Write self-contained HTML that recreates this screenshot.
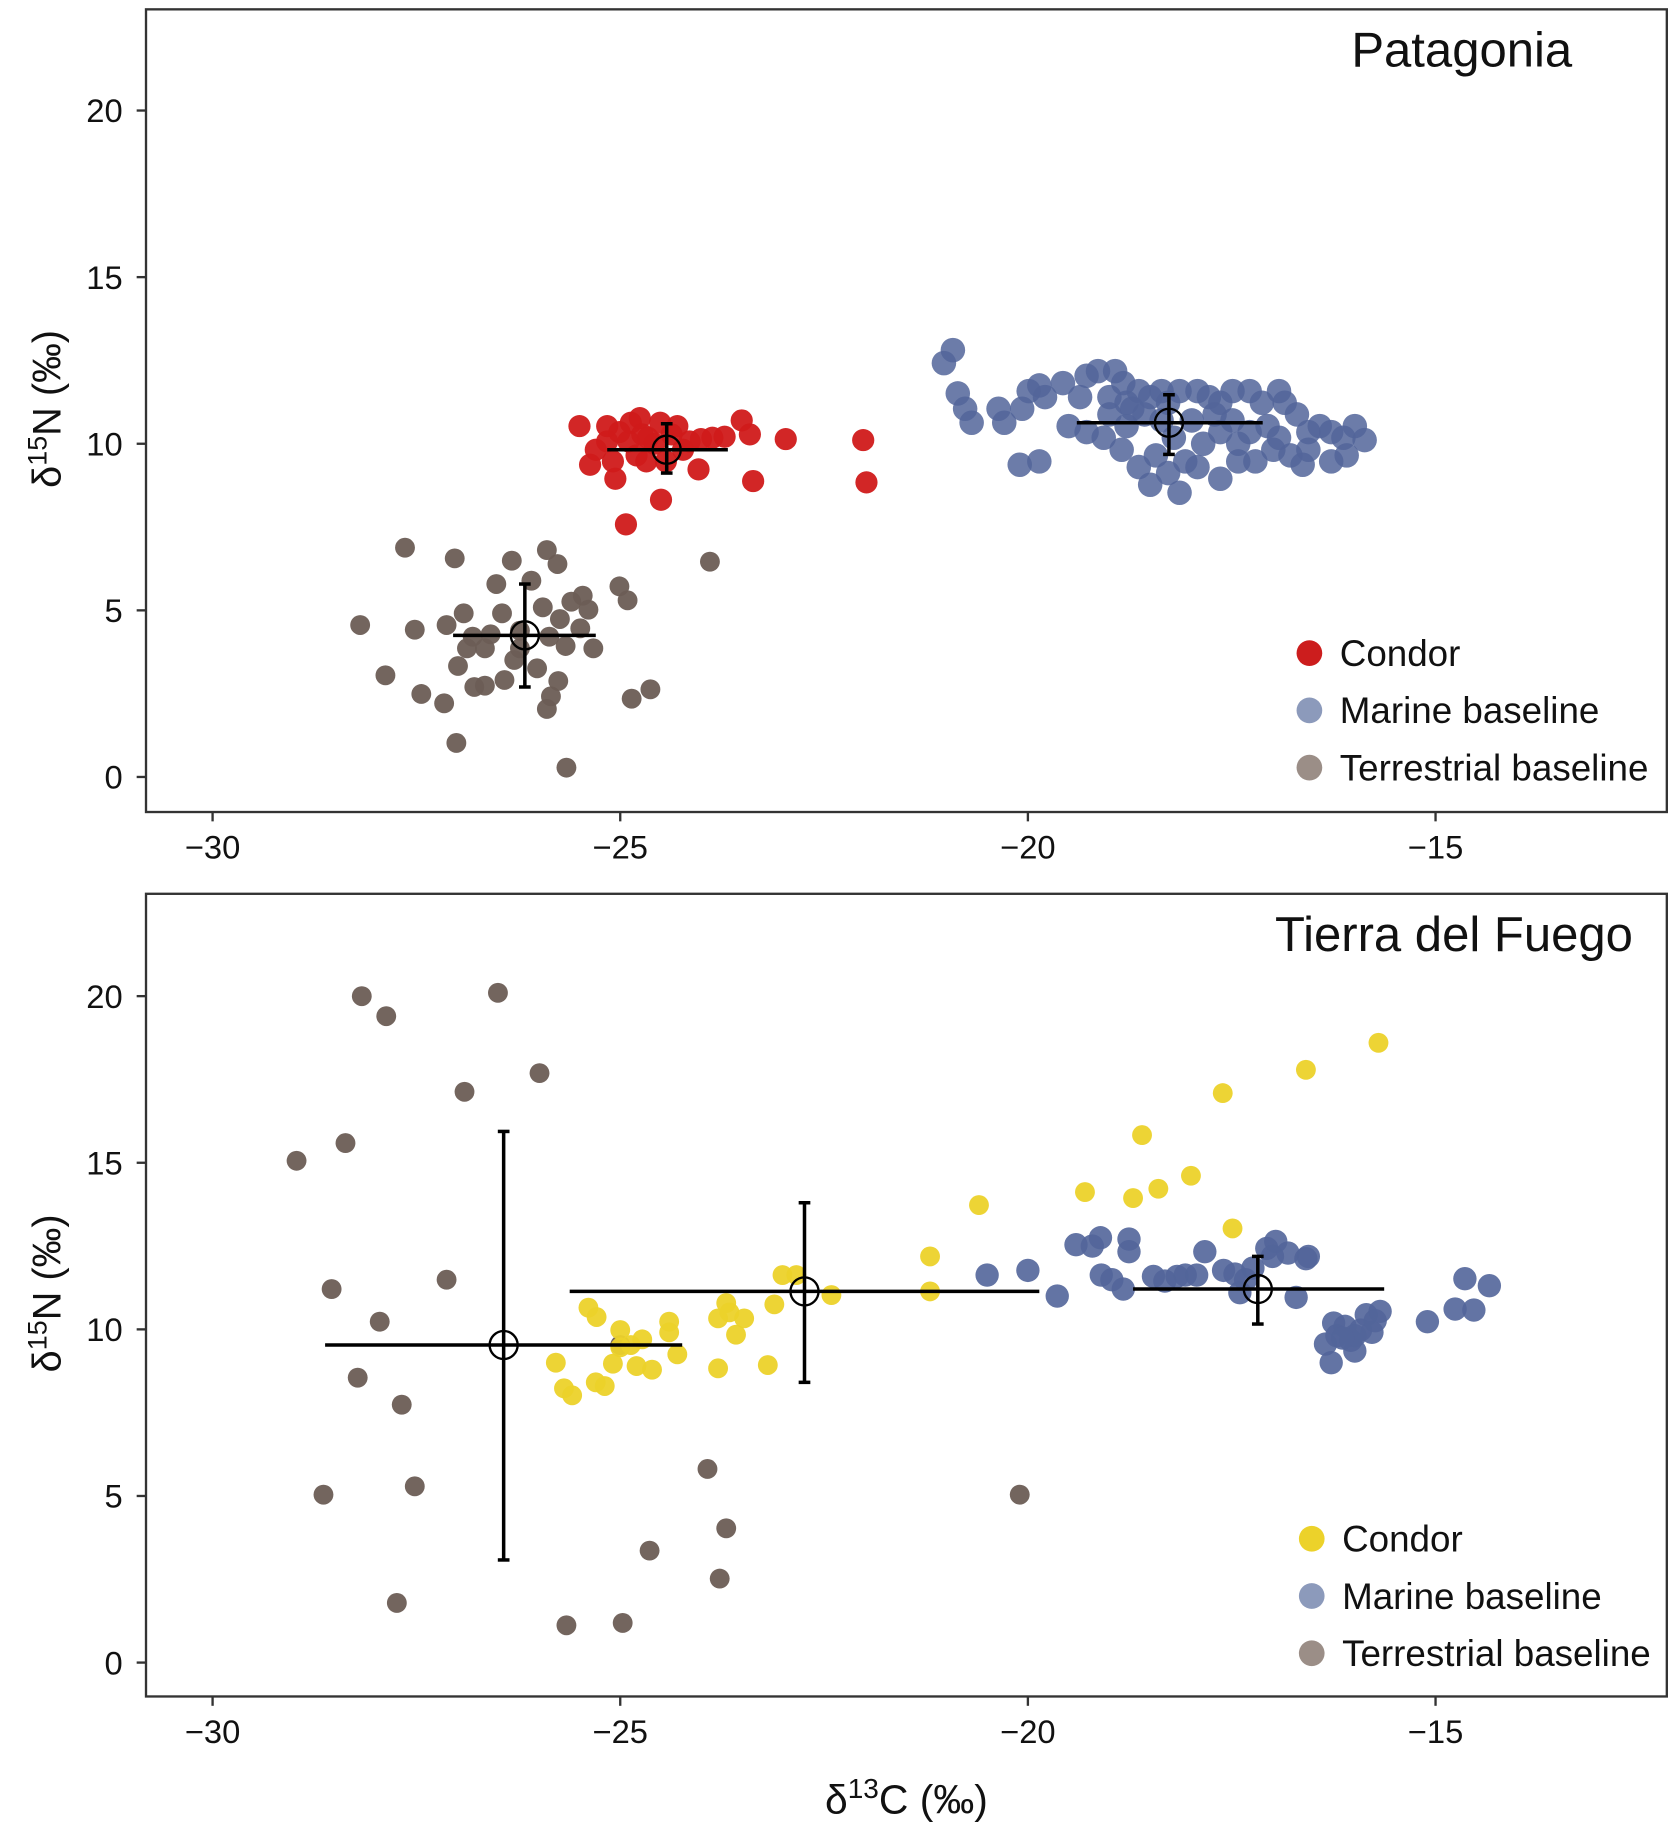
<!DOCTYPE html>
<html><head><meta charset="utf-8"><style>
html,body{margin:0;padding:0;background:#fff}
svg{display:block}
text{font-family:"Liberation Sans",Arial,sans-serif;fill:#111}
</style></head><body>
<svg id="chart" width="1675" height="1832" viewBox="0 0 1434 1568" preserveAspectRatio="none" xmlns="http://www.w3.org/2000/svg"></svg>
<script>
const xTicks=[-30,-25,-20,-15];
const yTicks=[0,5,10,15,20];
const patCondorX=[-25.50,-25.30,-25.16,-25.01,-24.87,-24.76,-25.09,-25.37,-25.06,-24.80,-24.58,-24.37,-24.23,-24.04,-23.87,-23.72,-23.51,-23.41,-22.97,-23.37,-24.50,-24.93,-22.02,-21.98,-24.66,-24.15,-24.01,-24.73,-24.90,-24.51,-24.44,-24.30,-25.16,-24.68];
const patCondorY=[10.53,9.82,10.07,10.35,10.63,10.77,9.47,9.37,8.95,9.65,10.00,10.28,9.82,9.23,10.18,10.21,10.70,10.28,10.14,8.88,8.32,7.58,10.11,8.84,10.18,10.07,10.14,10.28,10.07,10.63,9.47,10.53,10.53,9.47];
const patMarineX=[-21.03,-20.92,-20.86,-20.77,-20.69,-20.36,-20.29,-20.07,-19.99,-19.86,-19.79,-19.57,-19.36,-19.28,-19.14,-18.93,-18.83,-19.00,-18.79,-18.64,-18.50,-18.36,-18.14,-17.92,-17.78,-17.64,-17.49,-17.28,-17.13,-16.92,-16.85,-16.70,-16.56,-16.42,-16.28,-16.13,-15.99,-15.87,-16.09,-16.63,-16.78,-16.99,-17.21,-17.42,-17.64,-17.85,-18.07,-18.28,-18.50,-18.14,-17.64,-18.64,-18.85,-19.07,-19.28,-19.50,-19.86,-20.10,-19.00,-18.79,-18.57,-18.36,-18.21,-17.99,-17.71,-17.49,-17.28,-17.06,-18.43,-17.92,-17.42,-18.72,-18.28,-16.92,-16.56,-16.28];
const patMarineY=[12.42,12.81,11.51,11.05,10.63,11.05,10.63,11.05,11.58,11.75,11.40,11.82,11.40,12.04,12.18,12.18,11.82,11.40,11.23,11.58,11.40,11.58,11.58,11.58,11.40,11.23,11.58,11.58,11.23,11.58,11.23,10.88,10.35,10.53,10.35,10.18,10.53,10.11,9.65,9.37,9.65,9.82,9.47,10.00,10.35,10.00,9.47,9.12,8.77,8.53,8.95,9.30,9.82,10.18,10.35,10.53,9.47,9.37,10.88,10.53,10.88,10.70,10.18,10.70,10.88,10.70,10.35,10.53,9.65,9.30,9.47,11.05,11.23,10.18,9.82,9.47];
const patTerrX=[-27.64,-27.03,-26.33,-25.90,-25.77,-23.90,-28.19,-27.52,-27.13,-26.92,-26.81,-26.52,-26.09,-25.95,-25.74,-25.60,-25.46,-25.39,-25.49,-25.33,-25.67,-25.87,-25.01,-24.91,-27.88,-27.44,-27.16,-26.99,-26.79,-26.66,-26.42,-26.30,-26.02,-25.85,-25.76,-25.90,-27.01,-25.66,-24.86,-24.63,-26.59,-26.23,-26.45,-26.66,-26.23,-26.88];
const patTerrY=[6.88,6.56,6.49,6.81,6.39,6.46,4.56,4.42,4.56,4.91,4.21,5.79,5.89,5.09,4.74,5.26,5.44,5.02,4.46,3.86,3.93,4.21,5.72,5.30,3.05,2.49,2.21,3.33,2.70,2.74,2.91,3.51,3.26,2.42,2.88,2.04,1.02,0.28,2.35,2.63,4.28,4.39,4.91,3.86,3.86,3.86];
const tdfTerrX=[-28.97,-28.37,-28.17,-27.87,-26.50,-25.99,-26.91,-28.54,-27.95,-28.22,-27.68,-27.13,-28.64,-27.52,-27.74,-25.66,-24.97,-24.64,-23.93,-23.70,-23.78,-20.10,-25.00];
const tdfTerrY=[15.06,15.59,20.0,19.40,20.10,17.69,17.13,11.21,10.23,8.55,7.74,11.49,5.04,5.29,1.79,1.12,1.19,3.36,5.81,4.03,2.52,5.04,9.53];
const tdfCondorX=[-25.79,-25.69,-25.59,-25.39,-25.29,-25.00,-25.00,-24.87,-24.73,-25.30,-25.19,-25.09,-24.80,-24.61,-24.40,-24.40,-24.30,-23.80,-23.70,-23.66,-23.58,-23.48,-23.80,-23.19,-23.11,-23.01,-22.84,-22.41,-21.20,-21.20,-20.60,-19.30,-18.71,-18.60,-18.40,-18.00,-17.61,-17.49,-16.59,-15.70];
const tdfCondorY=[9.00,8.23,8.02,10.65,10.37,9.98,9.46,9.53,9.70,8.41,8.30,8.97,8.90,8.79,10.23,9.91,9.25,10.33,10.79,10.51,9.84,10.33,8.83,8.93,10.75,11.63,11.63,11.03,12.19,11.14,13.73,14.12,13.94,15.83,14.22,14.61,17.09,13.03,17.79,18.60];
const tdfMarineX=[-20.50,-20.00,-19.64,-19.41,-19.21,-19.11,-19.10,-18.97,-18.83,-18.76,-18.76,-18.46,-18.32,-18.17,-18.07,-17.93,-17.83,-17.60,-17.46,-17.40,-17.33,-17.24,-17.07,-16.96,-17.00,-16.81,-16.71,-16.59,-16.56,-16.35,-16.28,-16.25,-16.21,-16.11,-16.04,-15.99,-15.92,-15.85,-15.78,-15.74,-15.68,-15.10,-14.76,-14.64,-14.53,-14.34,-15.99,-16.14];
const tdfMarineY=[11.63,11.77,11.00,12.54,12.50,12.75,11.63,11.49,11.21,12.71,12.33,11.59,11.45,11.59,11.63,11.63,12.33,11.77,11.66,11.10,11.49,11.84,12.43,12.64,12.19,12.29,10.96,12.12,12.19,9.56,9.00,10.19,9.81,10.09,9.67,9.35,9.98,10.44,9.91,10.26,10.54,10.23,10.61,11.52,10.58,11.31,9.81,9.74];
// means: [x, y, xlo, xhi, ylo, yhi]
const patMeans=[[-26.17,4.25,-27.05,-25.30,2.70,5.79],[-24.43,9.82,-25.16,-23.68,9.12,10.60],[-18.27,10.63,-19.40,-17.12,9.68,11.47]];
const tdfMeans=[[-26.43,9.53,-28.62,-24.24,3.08,15.94],[-22.74,11.14,-25.62,-19.86,8.41,13.80],[-17.18,11.21,-18.71,-15.63,10.16,12.19]];
const legendLabels=["Condor","Marine baseline","Terrestrial baseline"];

const NS="http://www.w3.org/2000/svg";
const svg=document.getElementById('chart');
function mk(tag,attrs,parent){const e=document.createElementNS(NS,tag);for(const k in attrs)e.setAttribute(k,attrs[k]);(parent||svg).appendChild(e);return e;}
const X0=125,X1=1427;
function sx(v){return 182+(v+30)*69.8;}

function panel(cfg){
  const g=mk('g',{});
  
  
  const sy=v=>cfg.y0-v*28.52;
  const frame=mk('rect',{x:X0,y:cfg.top,width:X1-X0,height:cfg.bot-cfg.top,fill:'none',stroke:'#333',"stroke-width":2},g);
  
  
  xTicks.forEach(t=>{
    mk('line',{x1:sx(t),x2:sx(t),y1:cfg.bot,y2:cfg.bot+8,stroke:'#333',"stroke-width":2},g);
    const tx=mk('text',{x:sx(t),y:cfg.bot+40,"text-anchor":"middle","font-size":28},g);
    tx.textContent='\u2212'+Math.abs(t);
    
    
  });
  yTicks.forEach(t=>{
    mk('line',{x1:X0-8,x2:X0,y1:sy(t),y2:sy(t),stroke:'#333',"stroke-width":2},g);
    const tx=mk('text',{x:X0-20,y:sy(t)+10,"text-anchor":"end","font-size":28},g);
    tx.textContent=t;
    
    
  });
  const yt=mk('text',{x:0,y:0,"text-anchor":"middle","font-size":34,transform:`translate(52,${cfg.ymid}) rotate(-90)`},g);
  yt.innerHTML='δ<tspan dy="-12" font-size="23">15</tspan><tspan dy="12">N (‰)</tspan>';
  
  
  const tt=mk('text',{x:cfg.titleX,y:cfg.top+49,"text-anchor":"end","font-size":42},g);
  tt.textContent=cfg.title;
  
  
  cfg.series.forEach(s=>{
    const sg=mk('g',{},g);
    
    
    s.xs.forEach((xv,i)=>{
      const c=mk('circle',{cx:sx(xv),cy:sy(s.ys[i]),r:s.r,fill:s.color,"fill-opacity":s.op},sg);
      
      
    });
  });
  cfg.means.forEach(m=>{
    const mg=mk('g',{stroke:'#000',"stroke-width":3,fill:'none'},g);
    
    
    mk('line',{x1:sx(m[2]),x2:sx(m[3]),y1:sy(m[1]),y2:sy(m[1])},mg);
    mk('line',{x1:sx(m[0]),x2:sx(m[0]),y1:sy(m[4]),y2:sy(m[5])},mg);
    mk('line',{x1:sx(m[0])-5,x2:sx(m[0])+5,y1:sy(m[4]),y2:sy(m[4])},mg);
    mk('line',{x1:sx(m[0])-5,x2:sx(m[0])+5,y1:sy(m[5]),y2:sy(m[5])},mg);
    mk('circle',{cx:sx(m[0]),cy:sy(m[1]),r:12,"stroke-width":2},mg);
  });
  const lg=mk('g',{},g);
  
  
  legendLabels.forEach((lab,i)=>{
    const ly=cfg.legY+i*49;
    mk('circle',{cx:cfg.legX,cy:ly,r:11,fill:cfg.legColors[i]},lg);
    const lt=mk('text',{x:cfg.legX+26,y:ly+11,"font-size":31.5},lg);
    lt.textContent=lab;
    
    
  });
}
panel({name:'patagonia-panel',title:'Patagonia',titleX:1346,top:8,bot:695,y0:665,ymid:350,
  legX:1121,legY:559,legColors:['#cc1d1d','#8c9abb','#9b8e87'],means:patMeans,
  series:[
   {name:'terrestrial-series',xs:patTerrX,ys:patTerrY,color:'#6b5d55',op:0.95,r:8.5},
   {name:'condor-series',xs:patCondorX,ys:patCondorY,color:'#d01a1a',op:0.95,r:9.5},
   {name:'marine-series',xs:patMarineX,ys:patMarineY,color:'#52659a',op:0.85,r:10.5}]});
panel({name:'tierra-del-fuego-panel',title:'Tierra del Fuego',titleX:1398,top:765,bot:1452,y0:1423,ymid:1107,
  legX:1123,legY:1317,legColors:['#ecd22a','#8c9abb','#9b8e87'],means:tdfMeans,
  series:[
   {name:'terrestrial-series',xs:tdfTerrX,ys:tdfTerrY,color:'#6b5d55',op:0.95,r:8.5},
   {name:'condor-series',xs:tdfCondorX,ys:tdfCondorY,color:'#ecd22a',op:0.95,r:8.5},
   {name:'marine-series',xs:tdfMarineX,ys:tdfMarineY,color:'#52659a',op:0.9,r:10}]});
const xt=mk('text',{x:776,y:1552,"text-anchor":"middle","font-size":35});
xt.innerHTML='δ<tspan dy="-13" font-size="24">13</tspan><tspan dy="13">C (‰)</tspan>';


</script>
</body></html>
